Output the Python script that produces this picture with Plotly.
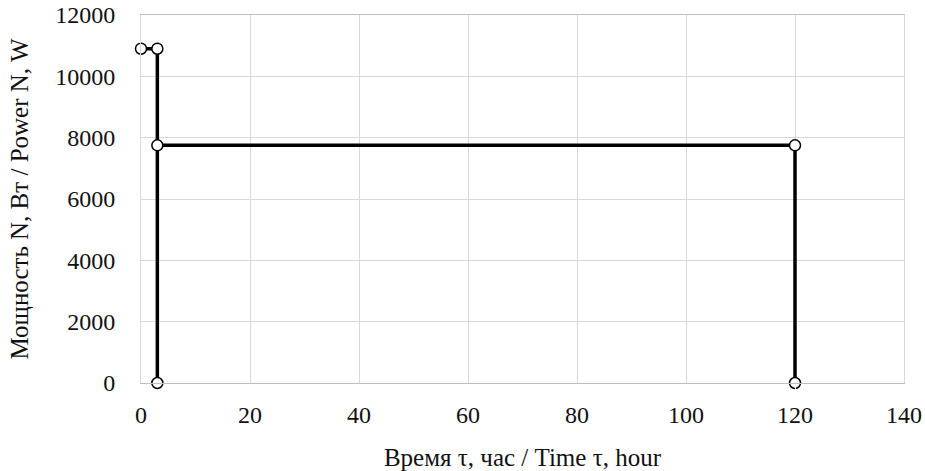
import plotly.graph_objects as go

time_h = [0, 3, 3, 3, 120, 120]
power_w = [10900, 10900, 0, 7750, 7750, 0]

x_ticks = [0, 20, 40, 60, 80, 100, 120, 140]
y_ticks = [0, 2000, 4000, 6000, 8000, 10000, 12000]

fig = go.Figure()
fig.add_trace(go.Scatter(
    x=time_h, y=power_w, mode="lines+markers",
    line=dict(color="black", width=3.5),
    marker=dict(size=11, color="white", line=dict(color="black", width=1.5)),
    cliponaxis=False,
    showlegend=False,
))

tick_font = dict(family="Liberation Serif, Times New Roman, serif", size=24, color="#111")
title_font = dict(family="Liberation Serif, Times New Roman, serif", size=25, color="#111")
grid = "#d9d9d9"
fig.update_layout(
    width=925, height=471,
    margin=dict(l=141, r=21, t=15, b=88, autoexpand=False),
    paper_bgcolor="white", plot_bgcolor="white",
    font=tick_font,
    xaxis=dict(range=[0, 140], tickvals=x_ticks, showgrid=True, gridcolor=grid, gridwidth=1,
               showline=True, linecolor="#bfbfbf", linewidth=1, mirror=True, zeroline=False,
               ticks="outside", ticklen=10, tickcolor="white", automargin=False,
               ticklabeloverflow="allow", tickfont=tick_font,
               title=dict(text="Время τ, час / Time τ, hour", standoff=24, font=title_font)),
    yaxis=dict(range=[0, 12000], tickvals=y_ticks, tickformat="d", showgrid=True, gridcolor=grid,
               gridwidth=1, showline=True, linecolor=grid, linewidth=1, mirror=True, zeroline=False,
               ticks="outside", ticklen=20, tickcolor="white", automargin=False,
               ticklabeloverflow="allow", tickfont=tick_font,
               title=dict(text="Мощность N, Вт / Power N, W", standoff=19, font=title_font)),
)
fig.write_html(
    "out.html",
    config={"displayModeBar": False},
    post_script="document.body.style.margin='0';document.body.style.overflow='hidden';",
)
